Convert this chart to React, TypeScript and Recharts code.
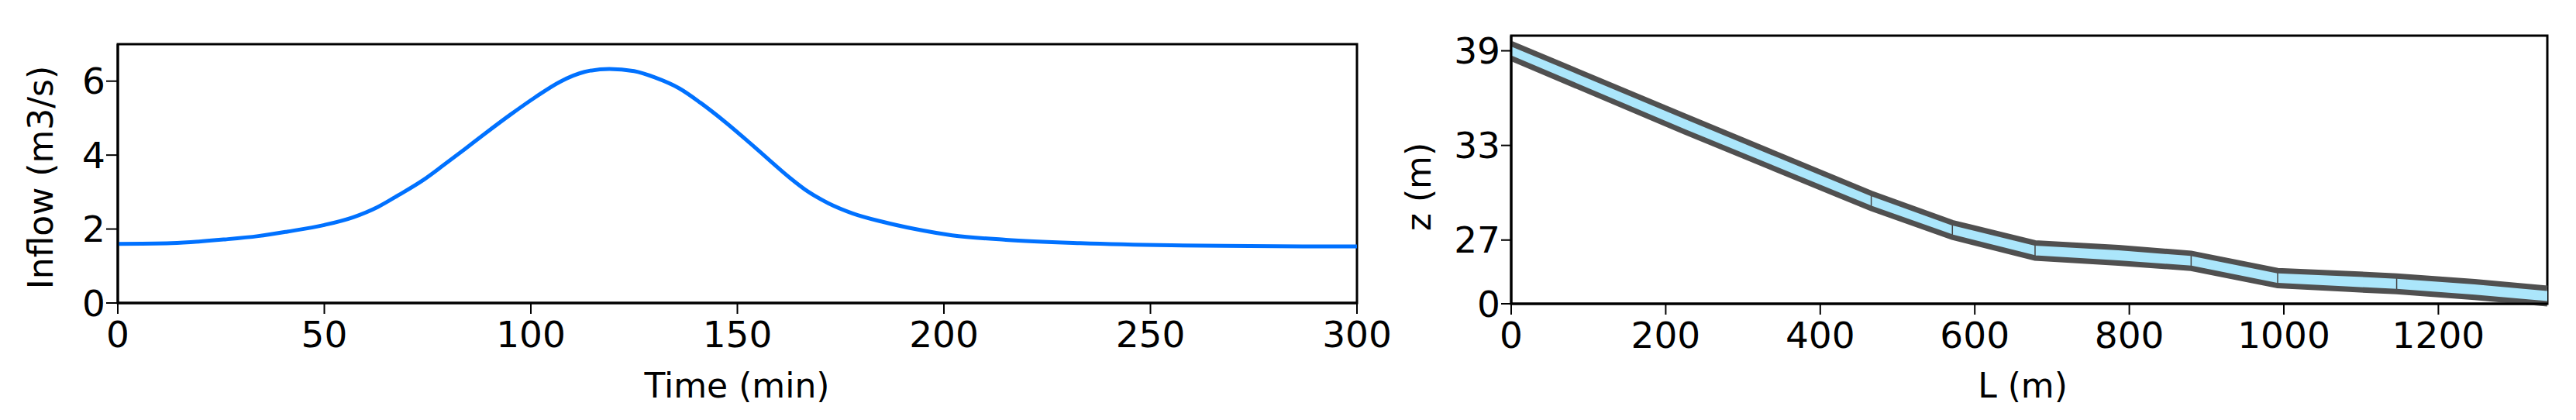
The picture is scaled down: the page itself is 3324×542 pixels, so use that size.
import React from 'react';
import { ComposedChart, Line, Area, XAxis, YAxis, ReferenceArea, ReferenceLine } from 'recharts';

// inflow hydrograph (left panel)
const timeMin = [0, 13, 26, 34, 41, 50, 57, 63, 68, 74, 79, 84, 89, 95, 101, 107, 113, 119, 125, 130, 136, 141, 147, 153, 158, 163, 167, 172, 178, 185, 193, 202, 215, 233, 255, 274, 290, 300];
const inflow = [1.6, 1.62, 1.72, 1.81, 1.93, 2.11, 2.32, 2.6, 2.92, 3.33, 3.74, 4.16, 4.59, 5.09, 5.56, 5.98, 6.25, 6.33, 6.27, 6.1, 5.8, 5.42, 4.9, 4.33, 3.84, 3.36, 3.02, 2.7, 2.42, 2.2, 2.0, 1.83, 1.71, 1.62, 1.56, 1.54, 1.53, 1.53];
const timeTicks = [0, 50, 100, 150, 200, 250, 300];
const inflowTicks = [0, 2, 4, 6];

// channel long profile (right panel)
const stationL = [0, 225, 466, 571, 678, 786, 880, 992, 1080, 1146, 1247, 1341];
const bedZ = [38.52, 33.85, 29.0, 27.18, 25.86, 25.54, 25.21, 24.11, 23.89, 23.73, 23.37, 22.96];
const topZ = [39.46, 34.85, 29.96, 28.1, 26.82, 26.52, 26.16, 25.06, 24.88, 24.72, 24.36, 23.94];
const segmentBreaks = [466, 571, 678, 880, 992, 1146];
const lTicks = [0, 200, 400, 600, 800, 1000, 1200];
const zTicks = [22.96, 27, 33, 39];
const zTickLabels = ['0', '27', '33', '39'];

const inflowData = timeMin.map((t, i) => ({ t, q: inflow[i] }));
const channelData = stationL.map((L, i) => ({ L, bed: bedZ[i], top: topZ[i], water: [bedZ[i], topZ[i]] }));

const FONT = 'DejaVu Sans';
const tickStyle = { fill: '#000', fontSize: 47, fontFamily: FONT };
const axisLine = { stroke: '#000', strokeWidth: 3 };
const tickLine = { stroke: '#000', strokeWidth: 2 };

const title = (text: string, x: number, y: number, rotate = false) => () => (
  <text
    x={x}
    y={y}
    textAnchor="middle"
    dominantBaseline={rotate ? 'central' : 'auto'}
    transform={rotate ? `rotate(-90 ${x} ${y})` : undefined}
    fontSize={44}
    fontFamily={FONT}
    fill="#000"
  >
    {text}
  </text>
);

export default function App() {
  return (
    <div style={{ position: 'absolute', left: 0, top: 0, width: 3324, height: 542, background: '#fff' }}>
      {/* Inflow hydrograph */}
      <div style={{ position: 'absolute', left: 0, top: 0 }}>
        <ComposedChart width={1800} height={542} data={inflowData} margin={{ top: 57, right: 49, bottom: 0, left: 0 }}>
          <XAxis
            type="number"
            dataKey="t"
            domain={[0, 300]}
            ticks={timeTicks}
            interval={0}
            height={151}
            tickSize={14}
            tickMargin={10}
            axisLine={axisLine}
            tickLine={tickLine}
            tick={tickStyle}
            label={title('Time (min)', 951, 513)}
          />
          <YAxis
            type="number"
            domain={[0, 7]}
            ticks={inflowTicks}
            interval={0}
            width={152}
            tickSize={15}
            tickMargin={1}
            axisLine={axisLine}
            tickLine={tickLine}
            tick={tickStyle}
            label={title('Inflow (m3/s)', 52, 229, true)}
          />
          <ReferenceArea x1={0} x2={300} y1={0} y2={7} fill="none" stroke="#000" strokeWidth={3} />
          <Line
            type="monotone"
            dataKey="q"
            stroke="#0071ff"
            strokeWidth={5}
            dot={false}
            activeDot={false}
            isAnimationActive={false}
          />
        </ComposedChart>
      </div>

      {/* Channel profile */}
      <div style={{ position: 'absolute', left: 1800, top: 0 }}>
        <ComposedChart width={1524} height={542} data={channelData} margin={{ top: 46, right: 37, bottom: 0, left: 0 }}>
          <XAxis
            type="number"
            dataKey="L"
            domain={[0, 1341]}
            ticks={lTicks}
            interval={0}
            height={150}
            tickSize={14}
            tickMargin={10}
            axisLine={axisLine}
            tickLine={tickLine}
            tick={tickStyle}
            label={title('L (m)', 810, 513)}
          />
          <YAxis
            type="number"
            domain={[22.96, 39.96]}
            ticks={zTicks}
            interval={0}
            width={150}
            tickSize={13}
            tickMargin={1}
            tickFormatter={(v: number) => zTickLabels[zTicks.indexOf(v)] ?? String(v)}
            axisLine={axisLine}
            tickLine={tickLine}
            tick={tickStyle}
            label={title('z (m)', 30, 241, true)}
          />
          <ReferenceArea x1={0} x2={1341} y1={22.96} y2={39.96} fill="none" stroke="#000" strokeWidth={3} />
          <Area
            type="linear"
            dataKey="water"
            fill="#abe6fb"
            fillOpacity={1}
            stroke="none"
            isAnimationActive={false}
            activeDot={false}
          />
          {segmentBreaks.map((b) => {
            const i = stationL.indexOf(b);
            return (
              <ReferenceLine
                key={b}
                segment={[{ x: b, y: bedZ[i] }, { x: b, y: topZ[i] }]}
                stroke="#444"
                strokeWidth={1.5}
              />
            );
          })}
          <Line type="linear" dataKey="bed" stroke="#505050" strokeWidth={7} dot={false} activeDot={false} isAnimationActive={false} />
          <Line type="linear" dataKey="top" stroke="#505050" strokeWidth={7} dot={false} activeDot={false} isAnimationActive={false} />
        </ComposedChart>
      </div>
    </div>
  );
}
